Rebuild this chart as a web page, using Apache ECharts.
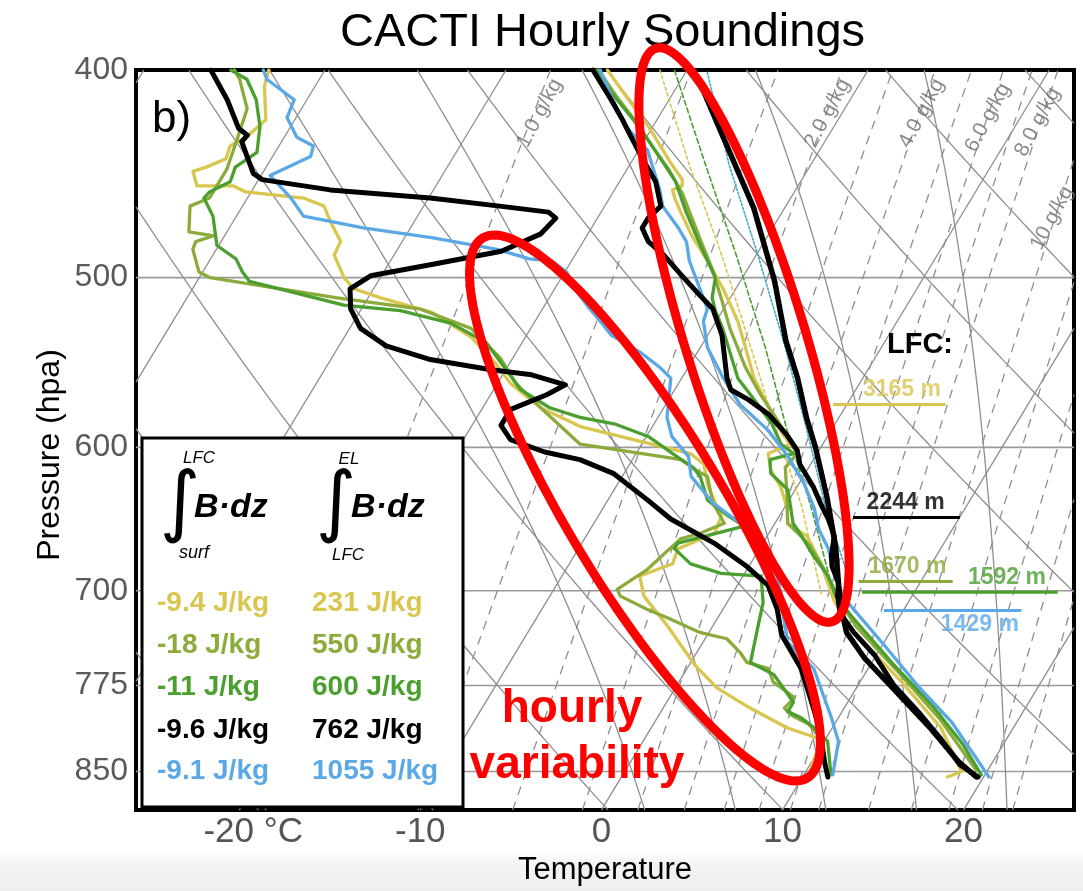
<!DOCTYPE html>
<html><head><meta charset="utf-8">
<script src="https://cdn.jsdelivr.net/npm/echarts@6/dist/echarts.min.js"></script>
<style>html,body{margin:0;padding:0;background:#fff}#c{width:1083px;height:891px}</style>
</head><body><div id="c"></div>
<script>
// ---------------- axes / ticks ----------------
const pressureTicks = [400, 500, 600, 700, 775, 850];
const temperatureTicks = [-20, -10, 0, 10, 20];
const isobarLevels = [500, 600, 700, 775, 850];
const P_TOP = 400, P_BOT = 886;
const T_MIN = -25.7, T_MAX = 26.1;
const SKEW = 31.1;

// ---------------- soundings: [pressure hPa, temperature degC] ----------------
const blackT = [[400,-25.2],[413,-23.2],[422,-21.9],[428,-21.1],[440,-19.5],[451,-18.0],[463,-16.9],[469,-17.2],[474,-17.2],[481,-16.4],[488,-15.1],[499,-13.4],[510,-11.7],[517,-10.6],[532,-9.2],[557,-7.5],[564,-6.9],[570,-5.6],[579,-4.0],[592,-2.3],[602,-1.2],[611,-0.6],[626,0.9],[639,2.0],[648,2.8],[660,3.7],[674,4.2],[682,4.6],[694,5.5],[704,5.9],[717,6.6],[732,8.0],[750,9.9],[775,12.0],[797,14.2],[820,16.3],[844,18.3],[855,19.7]];
const blackTd = [[400,-46.3],[413,-44.4],[426,-42.8],[429,-42.1],[432,-42.2],[439,-41.4],[447,-40.5],[450,-39.8],[455,-35.7],[459,-29.9],[463,-25.8],[466,-22.9],[469,-22.3],[477,-22.6],[486,-24.2],[493,-27.6],[499,-30.6],[506,-31.3],[517,-30.6],[528,-29.4],[538,-27.4],[546,-24.5],[552,-20.8],[555,-18.4],[561,-16.2],[567,-16.9],[576,-18.4],[586,-18.4],[595,-17.4],[603,-15.1],[608,-12.9],[617,-10.6],[635,-7.8],[648,-5.9],[665,-2.7],[682,-0.1],[696,1.7],[714,3.0],[734,4.1],[761,6.3],[794,8.3],[815,9.5],[841,10.7],[855,11.4]];
const blackParcel = [[406,-18.8],[428,-16.0],[464,-11.7],[502,-8.1],[535,-5.5],[557,-3.6],[581,-1.8],[600,-0.3],[633,2.0],[667,4.1],[696,5.6],[715,6.6],[732,7.6],[753,9.5],[775,11.8],[811,15.4],[841,18.1],[855,19.6]];

const yellowT = [[400,-24.4],[412,-22.4],[426,-20.1],[442,-17.8],[450,-16.6],[453,-16.4],[455,-16.8],[459,-16.4],[466,-15.6],[478,-14.2],[491,-12.5],[506,-10.7],[524,-8.8],[539,-7.5],[557,-6.0],[577,-4.0],[592,-2.5],[598,-1.8],[604,-2.7],[615,-2.0],[626,-0.9],[641,0.2],[651,0.7],[660,2.2],[680,3.9],[694,4.9],[708,5.9],[729,7.7],[772,12.3],[811,16.0],[850,18.6],[855,18.0]];
const yellowTd = [[400,-43.1],[407,-42.8],[422,-41.6],[430,-42.1],[434,-42.7],[440,-42.5],[444,-43.3],[446,-43.9],[453,-43.2],[453,-41.2],[456,-40.3],[459,-36.9],[463,-35.5],[471,-34.6],[481,-33.4],[488,-33.3],[500,-32.0],[506,-31.1],[511,-29.3],[519,-26.0],[533,-23.0],[548,-20.8],[560,-19.3],[575,-16.8],[587,-13.9],[604,-7.0],[611,-5.9],[626,-4.9],[646,-3.2],[658,-3.0],[669,-4.5],[680,-4.3],[689,-5.7],[704,-4.8],[727,-2.5],[758,0.3],[777,2.3],[794,4.8],[811,7.5],[820,9.5],[829,9.9],[855,10.3]];
const yellowParcel = [[400,-21.5],[443,-16.7],[487,-12.0],[539,-7.2],[587,-3.2],[639,0.9],[702,4.9]];

const oliveT = [[400,-24.9],[411,-23.1],[424,-20.9],[436,-19.1],[445,-17.7],[457,-16.1],[467,-15.0],[479,-13.7],[495,-12.0],[511,-10.5],[528,-9.0],[551,-6.8],[566,-5.2],[581,-3.5],[593,-2.2],[604,-1.1],[613,-1.3],[633,-0.2],[651,0.7],[658,1.6],[667,2.7],[680,3.9],[694,5.1],[708,6.2],[727,7.9],[766,12.0],[804,15.7],[848,19.3]];
const oliveTd = [[400,-45.0],[404,-44.4],[417,-43.0],[432,-42.5],[445,-42.1],[459,-42.1],[463,-42.9],[476,-42.1],[478,-40.6],[481,-41.4],[485,-41.3],[497,-40.2],[500,-39.4],[511,-31.7],[517,-26.8],[528,-23.3],[545,-20.7],[560,-19.0],[575,-16.8],[598,-13.4],[608,-7.3],[615,-6.1],[619,-5.3],[637,-4.1],[651,-2.8],[658,-3.8],[662,-4.7],[684,-5.5],[699,-6.5],[704,-6.1],[714,-4.2],[721,-2.7],[732,-0.5],[737,1.2],[748,2.4],[756,3.1],[761,4.5],[772,5.2],[785,6.9],[794,6.7],[800,7.3],[808,8.6],[820,9.7],[829,9.9],[853,10.5]];

const greenT = [[400,-25.0],[410,-23.4],[422,-21.3],[432,-19.7],[440,-18.5],[451,-16.9],[466,-15.3],[483,-13.4],[500,-11.5],[511,-11.0],[518,-10.4],[528,-9.4],[557,-6.9],[569,-5.4],[585,-3.5],[598,-2.3],[604,-1.3],[608,-2.4],[617,-1.9],[628,-0.4],[651,1.0],[660,1.9],[674,3.2],[689,4.7],[704,5.8],[719,7.3],[758,11.3],[791,14.7],[826,17.8],[853,19.8]];
const greenTd = [[400,-45.2],[404,-44.0],[413,-42.8],[425,-41.7],[437,-41.0],[444,-41.7],[451,-41.5],[456,-42.3],[459,-42.4],[468,-41.3],[483,-40.1],[490,-38.6],[497,-37.8],[502,-37.1],[515,-31.1],[518,-27.8],[525,-24.6],[536,-22.0],[551,-20.1],[564,-18.5],[575,-16.3],[581,-14.3],[585,-12.2],[593,-9.9],[608,-7.3],[613,-6.4],[619,-5.7],[635,-4.5],[646,-2.8],[653,-1.6],[665,-4.7],[669,-4.7],[680,-3.3],[687,-1.3],[689,1.0],[709,2.0],[727,2.5],[756,3.3],[766,5.0],[789,7.0],[797,7.0],[802,7.9],[811,9.0],[823,10.2],[853,11.5]];
const greenParcel = [[400,-20.7],[443,-15.8],[487,-11.2],[539,-6.4],[587,-2.6],[639,1.4],[699,5.4]];

const blueT = [[400,-24.8],[413,-23.1],[425,-21.5],[436,-19.5],[455,-17.5],[463,-16.8],[474,-15.2],[481,-14.3],[491,-13.5],[517,-10.9],[524,-10.7],[539,-9.6],[557,-7.7],[573,-5.9],[589,-3.5],[606,-1.5],[624,0.3],[641,1.7],[655,2.6],[669,3.8],[685,4.8],[700,5.8],[711,6.9],[742,10.1],[775,13.3],[806,16.4],[855,20.3]];
const blueTd = [[400,-43.4],[404,-42.9],[413,-40.7],[421,-40.5],[430,-39.3],[434,-38.1],[439,-37.9],[448,-39.5],[459,-37.6],[468,-36.3],[474,-32.6],[479,-28.5],[485,-24.5],[490,-22.4],[491,-21.1],[497,-19.9],[506,-18.9],[517,-17.4],[524,-16.4],[532,-15.3],[542,-13.1],[551,-11.5],[557,-10.6],[581,-9.5],[593,-8.6],[606,-7.0],[619,-6.2],[637,-4.1],[651,-1.9],[658,-1.0],[677,0.8],[689,1.9],[709,3.0],[740,4.7],[761,7.0],[775,7.9],[802,9.6],[823,10.8],[853,11.6]];
const cyanParcel = [[401,-18.8],[443,-14.5],[487,-10.0],[539,-5.3],[587,-1.5],[639,2.2],[689,5.8]];

// ---------------- LFC marks ----------------
const lfcLabels = ['3165 m', '2244 m', '1670 m', '1592 m', '1429 m'];
const lfcPressure = [573, 647, 693, 701, 715];
const lfcFrom = [12.8, 13.9, 14.2, 14.4, 15.6];
const lfcTo = [19.0, 19.8, 19.4, 25.2, 23.2];
const lfcLabelX = [16.6, 16.8, 16.9, 22.4, 20.9];

// ---------------- legend values ----------------
const belowLFC = ['-9.4 J/kg', '-18 J/kg', '-11 J/kg', '-9.6 J/kg', '-9.1 J/kg'];
const aboveLFC = ['231 J/kg', '550 J/kg', '600 J/kg', '762 J/kg', '1055 J/kg'];

// ---------------- mixing ratio lines ----------------
const mixingRatios = [1, 2, 3, 4, 5, 6, 7, 8, 9, 10, 12, 14, 16, 18, 20];
const mixLabels = ['1.0 g/kg', '2.0 g/kg', '4.0 g/kg', '6.0 g/kg', '8.0 g/kg', '10 g/kg'];
const mixLabelP = [419, 419, 419, 421, 423, 469];
const mixLabelT = [-26.7, -10.8, -5.6, -1.8, 1.1, 5.1];
const dryAdiabatsC = [-40, -30, -20, -10, 0, 10, 20, 30, 40, 50, 60, 70, 80, 90, 100];
const moistStartC = [2.4, 7.4, 12.4, 17.4, 22.4, 27.4, 32.4];

const COL = {yellow:'#d8c64f', olive:'#8cab3b', green:'#4a9f2f', blue:'#5aa9e6', black:'#000', cyan:'#45a9c9'};
const FONT = 'Liberation Sans, Arial, sans-serif';

// ---------------- transforms ----------------
const Y0 = Math.log(P_TOP), Y1 = Math.log(P_BOT);
const skewX = (p, t) => t + SKEW * Math.log(P_BOT / p);
const toXY = arr => arr.map(([p, t]) => [skewX(p, t), Math.log(p)]);

function lb(a, b) {
  let t0 = 0, t1 = 1;
  const dx = b[0] - a[0], dy = b[1] - a[1];
  const P = [-dx, dx, -dy, dy];
  const Q = [a[0] - T_MIN, T_MAX - a[0], a[1] - Y0, Y1 - a[1]];
  for (let k = 0; k < 4; k++) {
    if (P[k] === 0) { if (Q[k] < 0) return null; }
    else {
      const r = Q[k] / P[k];
      if (P[k] < 0) { if (r > t1) return null; if (r > t0) t0 = r; }
      else { if (r < t0) return null; if (r < t1) t1 = r; }
    }
  }
  return [t0, t1];
}
function clipPolyline(pts) {
  const out = []; let cur = null;
  for (let i = 0; i < pts.length - 1; i++) {
    const a = pts[i], b = pts[i + 1];
    const r = lb(a, b);
    if (!r) { if (cur) { out.push(cur); cur = null; } continue; }
    const A = [a[0] + (b[0] - a[0]) * r[0], a[1] + (b[1] - a[1]) * r[0]];
    const B = [a[0] + (b[0] - a[0]) * r[1], a[1] + (b[1] - a[1]) * r[1]];
    if (!cur) cur = [A];
    else if (r[0] > 0) { out.push(cur); cur = [A]; }
    cur.push(B);
    if (r[1] < 1) { out.push(cur); cur = null; }
  }
  if (cur) out.push(cur);
  return out.filter(c => c.length > 1);
}
function pLevels(step) { const a = []; for (let p = P_BOT; p > P_TOP; p -= step) a.push(p); a.push(P_TOP); return a; }

// background families
const isotherms = [];
for (let t = -110; t <= 50; t += 10) isotherms.push(...clipPolyline(toXY([[P_BOT, t], [P_TOP, t]])));
const dry = [];
dryAdiabatsC.forEach(th => {
  dry.push(...clipPolyline(toXY(pLevels(4).map(p => [p, (th + 273.15) * Math.pow(p / 1000, 0.2857) - 273.15]))));
});
const moist = [];
moistStartC.forEach(t0 => {
  const Rd = 287.04, cp = 1005.7, Lv = 2.501e6, eps = 0.622;
  let T = t0 + 273.15; const pts = [];
  for (let p = P_BOT; p >= P_TOP - 1e-6; p -= 2) {
    pts.push([p, T - 273.15]);
    const tc = T - 273.15;
    const es = 6.112 * Math.exp(17.67 * tc / (tc + 243.5));
    const rs = eps * es / (p - es);
    const dTdp = (Rd * T + Lv * rs) / (p * (cp + Lv * Lv * rs * eps / (Rd * T * T)));
    T -= 2 * dTdp;
  }
  moist.push(...clipPolyline(toXY(pts)));
});
const mix = [];
mixingRatios.forEach(w => {
  mix.push(...clipPolyline(toXY(pLevels(10).map(p => {
    const e = w * p / (622 + w); const l = Math.log(e / 6.112);
    return [p, 243.5 * l / (17.67 - l)];
  }))));
});
const isobars = isobarLevels.map(p => [[T_MIN, Math.log(p)], [T_MAX, Math.log(p)]]);

function bg(pieces, color, width, type) {
  return {type: 'lines', coordinateSystem: 'cartesian2d', polyline: true, silent: true, animation: false, z: 1,
    data: pieces.map(c => ({coords: c})), lineStyle: {color: color, width: width, type: type, opacity: 1}};
}
function prof(arr, color, width, type, z) {
  return {type: 'line', data: toXY(arr), showSymbol: false, symbol: 'none', silent: true, animation: false, clip: true,
    z: z || 3, lineStyle: {color: color, width: width, type: type || 'solid', cap: 'round', join: 'round'}};
}

const series = [
  bg(isobars, '#9a9a9a', 1.6, 'solid'),
  bg(isotherms, '#8e8e8e', 1.3, 'solid'),
  bg(dry, '#8e8e8e', 1.3, 'solid'),
  bg(moist, '#8e8e8e', 1.3, 'solid'),
  bg(mix, '#8e8e8e', 1.3, [9, 7]),
  prof(yellowParcel, COL.yellow, 1.6, [3, 3]),
  prof(greenParcel, COL.green, 1.6, [5, 3]),
  prof(cyanParcel, COL.cyan, 1.6, [2, 2]),
  prof(yellowTd, COL.yellow, 3.3), prof(oliveTd, COL.olive, 3.3), prof(greenTd, COL.green, 3.3), prof(blueTd, COL.blue, 3.3),
  prof(yellowT, COL.yellow, 3.3), prof(oliveT, COL.olive, 3.3), prof(greenT, COL.green, 3.3), prof(blueT, COL.blue, 3.3),
  prof(blackTd, COL.black, 5, 'solid', 4), prof(blackT, COL.black, 5, 'solid', 4),
  prof(blackParcel, COL.black, 5.5, [3.5, 1.5], 5)
];
const lfcCols = [COL.yellow, COL.black, COL.olive, COL.green, COL.blue];
lfcLabels.forEach((l, i) => {
  series.push({type: 'line', silent: true, animation: false, showSymbol: false, symbol: 'none', z: 6,
    data: [[lfcFrom[i], Math.log(lfcPressure[i])], [lfcTo[i], Math.log(lfcPressure[i])]],
    lineStyle: {color: lfcCols[i], width: 3}});
});
series.push({type: 'scatter', symbolSize: 0, silent: true, animation: false, z: 7,
  data: lfcLabels.map((l, i) => ({name: l, value: [lfcLabelX[i], Math.log(lfcPressure[i])],
    label: {show: true, position: i === 4 ? 'bottom' : 'top', distance: 3, formatter: '{b}', color: lfcCols[i],
      fontSize: 23, fontWeight: 'bold', fontFamily: FONT}}))});
series.push({type: 'scatter', symbolSize: 0, silent: true, animation: false, z: 7,
  data: mixLabels.map((l, i) => ({name: l, value: [skewX(mixLabelP[i], mixLabelT[i]), Math.log(mixLabelP[i])]})),
  label: {show: true, position: 'inside', rotate: 62, formatter: '{b}', color: '#6e6e6e', fontSize: 21, fontFamily: FONT}});

function ellipsePts(cx, cy, a, b, th) {
  const pts = [];
  for (let i = 0; i < 160; i++) {
    const g = 2 * Math.PI * i / 160, u = b * Math.cos(g), v = a * Math.sin(g);
    pts.push([cx + u * Math.cos(th) + v * Math.sin(th), cy - u * Math.sin(th) + v * Math.cos(th)]);
  }
  return pts;
}

const legendCols = [COL.yellow, COL.olive, COL.green, COL.black, COL.blue];
const rowY = [603, 645, 687, 730, 771];
const graphics = [
  {type: 'text', z: 60, style: {text: 'Pressure (hpa)', x: 0, y: 0, fill: '#000', font: '32px ' + FONT, textAlign: 'center', textVerticalAlign: 'middle'}, x: 50, y: 455, rotation: Math.PI / 2},
  {type: 'text', z: 60, style: {text: 'b)', x: 152, y: 120, fill: '#000', font: '44px ' + FONT, textVerticalAlign: 'middle'}},
  {type: 'text', z: 60, style: {text: 'LFC:', x: 920, y: 345, fill: '#000', font: 'bold 29px ' + FONT, textAlign: 'center', textVerticalAlign: 'middle'}},
  {type: 'rect', z: 50, shape: {x: 142, y: 438, width: 321, height: 369}, style: {fill: '#fff', stroke: '#000', lineWidth: 3}},
  {type: 'text', z: 51, style: {text: '\u222B', x: 180, y: 507, fill: '#000', font: '78px DejaVu Sans', textAlign: 'center', textVerticalAlign: 'middle'}},
  {type: 'text', z: 51, style: {text: '\u222B', x: 336, y: 507, fill: '#000', font: '78px DejaVu Sans', textAlign: 'center', textVerticalAlign: 'middle'}},
  {type: 'text', z: 51, style: {text: 'LFC', x: 199, y: 458, fill: '#000', font: 'italic 17px ' + FONT, textAlign: 'center', textVerticalAlign: 'middle'}},
  {type: 'text', z: 51, style: {text: 'surf', x: 194, y: 553, fill: '#000', font: 'italic 18px ' + FONT, textAlign: 'center', textVerticalAlign: 'middle'}},
  {type: 'text', z: 51, style: {text: 'EL', x: 349, y: 459, fill: '#000', font: 'italic 17px ' + FONT, textAlign: 'center', textVerticalAlign: 'middle'}},
  {type: 'text', z: 51, style: {text: 'LFC', x: 348, y: 555, fill: '#000', font: 'italic 17px ' + FONT, textAlign: 'center', textVerticalAlign: 'middle'}},
  {type: 'text', z: 51, style: {text: 'B\u00B7dz', x: 194, y: 508, fill: '#000', font: 'italic bold 34px ' + FONT, textVerticalAlign: 'middle'}},
  {type: 'text', z: 51, style: {text: 'B\u00B7dz', x: 351, y: 508, fill: '#000', font: 'italic bold 34px ' + FONT, textVerticalAlign: 'middle'}},
  {type: 'polygon', z: 200, shape: {points: ellipsePts(744, 335, 300, 60, 0.298)}, style: {fill: 'none', stroke: '#ff0000', lineWidth: 9}},
  {type: 'polygon', z: 200, shape: {points: ellipsePts(645, 508, 315, 78, 0.541)}, style: {fill: 'none', stroke: '#ff0000', lineWidth: 9}},
  {type: 'text', z: 201, style: {text: 'hourly', x: 572, y: 709, fill: '#ff0000', font: 'bold 46px ' + FONT, textAlign: 'center', textVerticalAlign: 'middle'}},
  {type: 'text', z: 201, style: {text: 'variability', x: 577, y: 765, fill: '#ff0000', font: 'bold 46px ' + FONT, textAlign: 'center', textVerticalAlign: 'middle'}}
];
belowLFC.forEach((t, i) => graphics.push({type: 'text', z: 51, style: {text: t, x: 157, y: rowY[i], fill: legendCols[i], font: 'bold 28px ' + FONT, textVerticalAlign: 'middle'}}));
aboveLFC.forEach((t, i) => graphics.push({type: 'text', z: 51, style: {text: t, x: 312, y: rowY[i], fill: legendCols[i], font: 'bold 28px ' + FONT, textVerticalAlign: 'middle'}}));

const chart = echarts.init(document.getElementById('c'), null, {renderer: 'canvas', width: 1083, height: 891});
chart.setOption({
  animation: false,
  backgroundColor: {type: 'linear', x: 0, y: 0, x2: 0, y2: 1, colorStops: [
    {offset: 0, color: '#ffffff'}, {offset: 0.955, color: '#ffffff'}, {offset: 0.97, color: '#f3f3f3'}, {offset: 1, color: '#efefef'}]},
  title: {text: 'CACTI Hourly Soundings', left: 340, top: 10, padding: 0,
    textStyle: {fontSize: 47, fontWeight: 'normal', color: '#000', fontFamily: FONT}},
  grid: {left: 136, right: 9, top: 70, bottom: 75, show: true, borderColor: '#000', borderWidth: 4, backgroundColor: 'transparent'},
  xAxis: {type: 'value', min: T_MIN, max: T_MAX,
    name: 'Temperature', nameLocation: 'middle', nameGap: 40,
    nameTextStyle: {fontSize: 31, color: '#000', fontFamily: FONT},
    axisLine: {show: false}, axisTick: {show: false}, splitLine: {show: false},
    axisLabel: {customValues: temperatureTicks, margin: 5, fontSize: 35, color: '#555', fontFamily: FONT,
      formatter: v => v === -20 ? '{u|-20 \u00B0C}' : String(v),
      rich: {u: {fontSize: 35, color: '#555', fontFamily: FONT, padding: [0, 0, 0, 28]}}}},
  yAxis: {type: 'value', inverse: true, min: Y0, max: Y1,
    axisLine: {show: false}, axisTick: {show: false}, splitLine: {show: false},
    axisLabel: {customValues: pressureTicks.map(p => Math.log(p)), margin: 8, fontSize: 32, color: '#5a5a5a', fontFamily: FONT,
      formatter: v => String(Math.round(Math.exp(v)))}},
  series: series,
  graphic: graphics
});
</script></body></html>
